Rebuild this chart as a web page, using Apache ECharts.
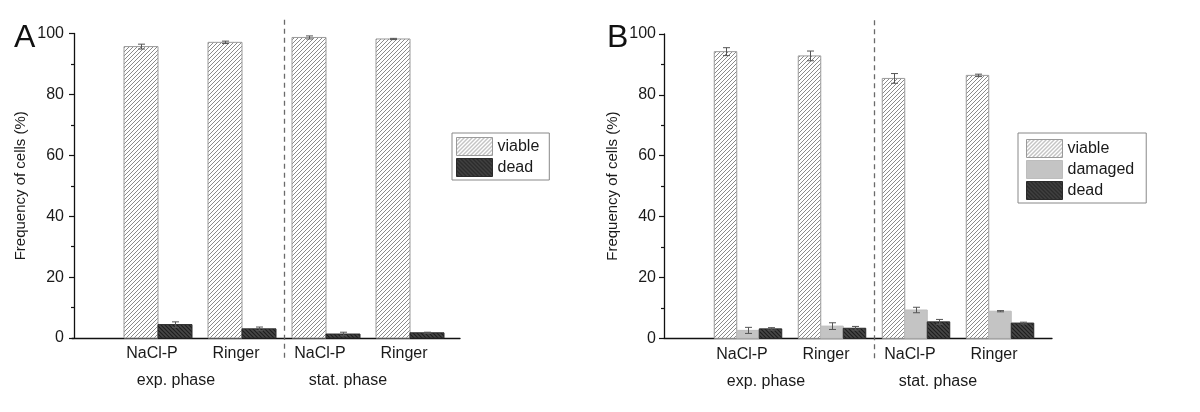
<!DOCTYPE html>
<html>
<head>
<meta charset="utf-8">
<script src="https://cdn.jsdelivr.net/npm/echarts@6/dist/echarts.min.js"></script>
<style>
html,body{margin:0;padding:0;background:#fff;}
#chart{width:1200px;height:412px;}
</style>
</head>
<body>
<div id="chart"></div>
<script>
// ---- data ----
var categories = ['NaCl-P', 'Ringer', 'NaCl-P', 'Ringer'];
var phases = ['exp. phase', 'stat. phase'];
var yTicks = [0, 20, 40, 60, 80, 100];

// Panel A
var aViable    = [95.7, 97.1, 98.7, 98.2];
var aViableErr = [0.8, 0.4, 0.5, 0.2];
var aDead      = [4.4, 3.0, 1.3, 1.7];
var aDeadErr   = [0.9, 0.6, 0.6, 0.2];

// Panel B
var bViable     = [94.2, 92.8, 85.4, 86.4];
var bViableErr  = [1.3, 1.6, 1.6, 0.4];
var bDamaged    = [2.6, 4.0, 9.3, 8.9];
var bDamagedErr = [1.0, 1.1, 0.9, 0.2];
var bDead       = [3.1, 3.3, 5.4, 5.0];
var bDeadErr    = [0.4, 0.6, 0.8, 0.3];

// ---- styling helpers ----
var FONT = 'Liberation Sans, Arial, Helvetica, sans-serif';
function hatch(bg, fg, dir, size, lw) {
  var c = document.createElement('canvas');
  c.width = c.height = size;
  var g = c.getContext('2d');
  g.fillStyle = bg; g.fillRect(0, 0, size, size);
  g.strokeStyle = fg; g.lineWidth = lw;
  g.beginPath();
  if (dir > 0) {
    g.moveTo(0, size); g.lineTo(size, 0);
    g.moveTo(-1, 1); g.lineTo(1, -1);
    g.moveTo(size - 1, size + 1); g.lineTo(size + 1, size - 1);
  } else {
    g.moveTo(0, 0); g.lineTo(size, size);
    g.moveTo(-1, size - 1); g.lineTo(1, size + 1);
    g.moveTo(size - 1, -1); g.lineTo(size + 1, 1);
  }
  g.stroke();
  return {image: c, repeat: 'repeat'};
}
var viableFill = hatch('#ffffff', '#8a8a8a', 1, 4, 1);
var deadFill = hatch('#474747', '#1e1e1e', -1, 4, 1.2);
var damagedFill = '#c4c4c4';
var STY = {
  viable: {fill: viableFill, stroke: '#9a9a9a', lineWidth: 1},
  damaged: {fill: damagedFill, stroke: '#bdbdbd', lineWidth: 1},
  dead: {fill: deadFill, stroke: '#2a2a2a', lineWidth: 1}
};

function toData(vals, errs) {
  return vals.map(function (v, i) { return [i + 1, v, errs[i]]; });
}

function barSeries(name, grid, vals, errs, offset, bw) {
  var st = STY[name];
  return {
    type: 'custom', name: name, xAxisIndex: grid, yAxisIndex: grid,
    data: toData(vals, errs), encode: {x: 0, y: 1},
    itemStyle: {color: st.fill, borderColor: st.stroke, borderWidth: 1},
    silent: true,
    renderItem: function (params, api) {
      var x = api.value(0), v = api.value(1), e = api.value(2);
      var p0 = api.coord([x + offset, 0]);
      var p1 = api.coord([x + offset + bw, v]);
      var pc = api.coord([x + offset + bw / 2, v]);
      var pt = api.coord([x + offset + bw / 2, v + e]);
      var pb = api.coord([x + offset + bw / 2, v - e]);
      var cx = Math.round(pc[0]) + 0.5;
      var cap = 3.5;
      var ec = '#555';
      return {
        type: 'group',
        children: [
          {type: 'rect', shape: {x: p0[0], y: p1[1], width: p1[0] - p0[0], height: p0[1] - p1[1]},
           style: {fill: st.fill, stroke: st.stroke, lineWidth: st.lineWidth}},
          {type: 'line', shape: {x1: cx, y1: pt[1], x2: cx, y2: pb[1]}, style: {stroke: ec, lineWidth: 1}},
          {type: 'line', shape: {x1: cx - cap, y1: pt[1], x2: cx + cap, y2: pt[1]}, style: {stroke: ec, lineWidth: 1}},
          {type: 'line', shape: {x1: cx - cap, y1: pb[1], x2: cx + cap, y2: pb[1]}, style: {stroke: ec, lineWidth: 1}}
        ]
      };
    }
  };
}

function labelSeries(grid) {
  return {
    type: 'custom', xAxisIndex: grid, yAxisIndex: grid, silent: true,
    data: categories.map(function (c, i) { return [i + 1, 0]; }),
    encode: {x: 0, y: 1},
    renderItem: function (params, api) {
      var i = params.dataIndex;
      var p = api.coord([api.value(0), 0]);
      var children = [{
        type: 'text', x: p[0] - 6, y: p[1] + 16,
        style: {text: categories[i], fill: '#1a1a1a', font: '16px ' + FONT, align: 'center', verticalAlign: 'middle'}
      }];
      if (i === 0 || i === 2) {
        children.push({
          type: 'text', x: p[0] + (i === 0 ? 18 : 22), y: p[1] + 43,
          style: {text: phases[i / 2], fill: '#1a1a1a', font: '16px ' + FONT, align: 'center', verticalAlign: 'middle'}
        });
      }
      if (i === 1) {
        var top = api.coord([api.value(0) + 0.5, 104.5]);
        var bot = api.coord([api.value(0) + 0.5, -7.2]);
        var lx = Math.round(top[0]) + 0.5;
        children.push({
          type: 'line', shape: {x1: lx, y1: top[1], x2: lx, y2: bot[1]},
          style: {stroke: '#6a6a6a', lineWidth: 1.3, lineDash: [5, 4]}
        });
      }
      return {type: 'group', children: children};
    }
  };
}

function xAx(grid, min) {
  return {
    type: 'value', gridIndex: grid, min: min, max: min + 388 / 84,
    axisLine: {show: true, onZero: false, lineStyle: {color: '#111', width: 1.3}},
    axisTick: {show: false}, axisLabel: {show: false}, splitLine: {show: false}
  };
}
function yAx(grid) {
  return {
    type: 'value', gridIndex: grid, min: yTicks[0], max: yTicks[yTicks.length - 1], interval: 20,
    name: 'Frequency of cells (%)', nameLocation: 'middle', nameGap: 44,
    nameTextStyle: {fontSize: 15, color: '#1a1a1a', fontFamily: FONT},
    axisLine: {show: true, lineStyle: {color: '#111', width: 1.3}},
    axisTick: {show: true, inside: false, length: 5, lineStyle: {color: '#111', width: 1.2}},
    minorTick: {show: true, splitNumber: 2, length: 3, lineStyle: {color: '#111', width: 1.2}},
    axisLabel: {fontSize: 16, color: '#1a1a1a', fontFamily: FONT, margin: 8},
    splitLine: {show: false}, minorSplitLine: {show: false}
  };
}

function legendItem(name) {
  var st = STY[name];
  return {name: name, icon: 'rect', itemStyle: {color: st.fill, borderColor: st.stroke, borderWidth: 1}};
}

var chart = echarts.init(document.getElementById('chart'), null, {renderer: 'canvas'});
var bwA = 34 / 84, bwB = 22.5 / 84;
chart.setOption({
  animation: false,
  backgroundColor: '#fff',
  grid: [
    {left: 72, top: 33.5, width: 388, height: 304.5},
    {left: 664, top: 34, width: 388, height: 304.3}
  ],
  xAxis: [xAx(0, 1 - 86 / 84), xAx(1, 1 - 84 / 84)],
  yAxis: [yAx(0), yAx(1)],
  legend: [
    {left: 452, top: 133, orient: 'vertical', itemWidth: 36, itemHeight: 18, itemGap: 2,
     padding: [4, 10, 3, 4], borderColor: '#888', borderWidth: 1, selectedMode: false,
     textStyle: {fontSize: 16, color: '#1a1a1a', fontFamily: FONT},
     data: [legendItem('viable'), legendItem('dead')]},
    {left: 1018, top: 133, orient: 'vertical', itemWidth: 36, itemHeight: 18, itemGap: 2,
     padding: [6, 12, 3, 8], borderColor: '#888', borderWidth: 1, selectedMode: false,
     textStyle: {fontSize: 16, color: '#1a1a1a', fontFamily: FONT},
     data: [legendItem('viable'), legendItem('damaged'), legendItem('dead')]}
  ],
  graphic: [
    {type: 'text', left: 14, top: 22, style: {text: 'A', font: '32px ' + FONT, fill: '#111'}},
    {type: 'text', left: 607, top: 22, style: {text: 'B', font: '32px ' + FONT, fill: '#111'}}
  ],
  series: [
    barSeries('viable', 0, aViable, aViableErr, -bwA, bwA),
    barSeries('dead', 0, aDead, aDeadErr, 0, bwA),
    labelSeries(0),
    barSeries('viable', 1, bViable, bViableErr, -1.5 * bwB, bwB),
    barSeries('damaged', 1, bDamaged, bDamagedErr, -0.5 * bwB, bwB),
    barSeries('dead', 1, bDead, bDeadErr, 0.5 * bwB, bwB),
    labelSeries(1)
  ]
});
</script>
</body>
</html>
